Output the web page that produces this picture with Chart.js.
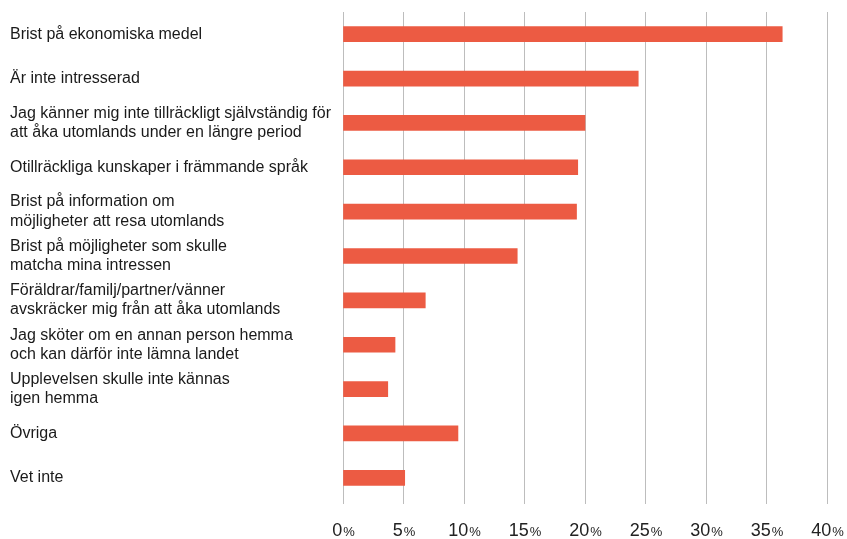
<!DOCTYPE html>
<html>
<head>
<meta charset="utf-8">
<script src="https://cdn.jsdelivr.net/npm/chart.js@4"></script>
<style>
  body { margin: 0; background: #fff; }
  #wrap { width: 847px; height: 539px; position: relative; }
</style>
</head>
<body>
<div id="wrap"><canvas id="barChart"></canvas></div>
<script>
const categories = [
  "Brist på ekonomiska medel",
  "Är inte intresserad",
  ["Jag känner mig inte tillräckligt självständig för", "att åka utomlands under en längre period"],
  "Otillräckliga kunskaper i främmande språk",
  ["Brist på information om", "möjligheter att resa utomlands"],
  ["Brist på möjligheter som skulle", "matcha mina intressen"],
  ["Föräldrar/familj/partner/vänner", "avskräcker mig från att åka utomlands"],
  ["Jag sköter om en annan person hemma", "och kan därför inte lämna landet"],
  ["Upplevelsen skulle inte kännas", "igen hemma"],
  "Övriga",
  "Vet inte",
];
const values = [36.3, 24.4, 20.0, 19.4, 19.3, 14.4, 6.8, 4.3, 3.7, 9.5, 5.1];
const tickValues = [0, 5, 10, 15, 20, 25, 30, 35, 40];

const fontFamily = "'Liberation Sans', Arial, sans-serif";

// x labels: big number, small percent sign
const percentTicks = {
  id: "percentTicks",
  afterDraw(chart) {
    const ctx = chart.ctx;
    const xs = chart.scales.x;
    ctx.save();
    ctx.fillStyle = "#222";
    ctx.textBaseline = "alphabetic";
    ctx.textAlign = "left";
    tickValues.forEach(function (v) {
      const px = xs.getPixelForValue(v);
      const num = String(v);
      ctx.font = "18px " + fontFamily;
      const wNum = ctx.measureText(num).width;
      ctx.font = "13px " + fontFamily;
      const wPct = ctx.measureText("%").width;
      const start = px - (wNum + wPct) / 2;
      ctx.font = "18px " + fontFamily;
      ctx.fillText(num, start, 536);
      ctx.font = "13px " + fontFamily;
      ctx.fillText("%", start + wNum + 1, 536);
    });
    ctx.restore();
  },
};

const data = {
  labels: categories,
  datasets: [
    {
      data: values,
      backgroundColor: "#EC5B43",
      barThickness: 15,
    },
  ],
};

const config = {
  type: "bar",
  data: data,
  plugins: [percentTicks],
  options: {
    indexAxis: "y",
    responsive: true,
    maintainAspectRatio: false,
    animation: false,
    layout: { padding: { top: 12, left: 10, right: 20, bottom: 0 } },
    plugins: {
      legend: { display: false },
      tooltip: { enabled: false },
    },
    scales: {
      x: {
        min: 0,
        max: 40,
        ticks: { stepSize: 5, display: false },
        grid: { color: "#bdbdbd", lineWidth: 1, tickLength: 4 },
        border: { display: false },
        afterFit: function (scale) {
          scale.height = 39;
        },
      },
      y: {
        grid: { display: false },
        border: { display: false },
        ticks: {
          crossAlign: "far",
          color: "#1a1a1a",
          padding: 0,
          font: { family: fontFamily, size: 16, lineHeight: 1.2 },
        },
        afterFit: function (scale) {
          scale.width = 333;
        },
      },
    },
  },
};

const BarChart = new Chart(document.getElementById("barChart"), config);
</script>
</body>
</html>
